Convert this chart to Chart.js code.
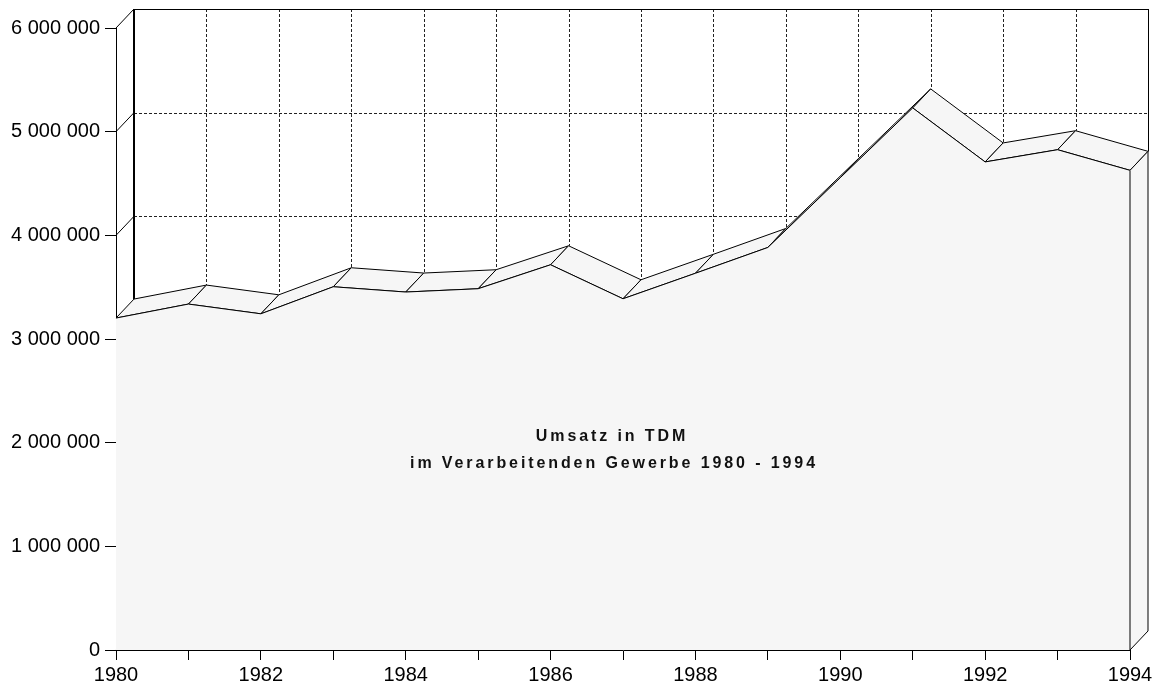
<!DOCTYPE html>
<html>
<head>
<meta charset="utf-8">
<script src="https://cdn.jsdelivr.net/npm/chart.js@4/dist/chart.umd.min.js"></script>
<style>
  html, body { margin: 0; padding: 0; background: #ffffff; }
  #wrap { width: 1159px; height: 688px; position: relative; }
</style>
</head>
<body>
<div id="wrap"><canvas id="c" width="1159" height="688"></canvas></div>
<script>
// ---- data ----
const years = ['1980','1981','1982','1983','1984','1985','1986','1987','1988','1989','1990','1991','1992','1993','1994'];
const umsatz = [3202000, 3337000, 3243000, 3504000, 3453000, 3485000, 3716000, 3388000, 3634000, 3883000, 4556000, 5229000, 4708000, 4826000, 4627000];
const yTickValues = [0, 1000000, 2000000, 3000000, 4000000, 5000000, 6000000];
const xLabeledYears = ['1980','1982','1984','1986','1988','1990','1992','1994'];
const titleLines = ['Umsatz in TDM', 'im Verarbeitenden Gewerbe 1980 - 1994'];

// ---- style ----
const DEPTH_X = 18, DEPTH_Y = -19;
const FACE = '#f6f6f6';
const FONT = '"Liberation Sans", Arial, sans-serif';

function fmt(v) { return String(v).replace(/\B(?=(\d{3})+(?!\d))/g, ' '); }

const depthPlugin = {
  id: 'depth3d',
  beforeDatasetsDraw(chart) {
    const ctx = chart.ctx, xs = chart.scales.x, ys = chart.scales.y;
    const n = umsatz.length;
    const fx = i => xs.getPixelForValue(i);
    const fy = i => ys.getPixelForValue(umsatz[i]);
    const L = xs.getPixelForValue(0), R = xs.getPixelForValue(n - 1);
    const topY = ys.getPixelForValue(yTickValues[yTickValues.length - 1]);
    ctx.save();
    ctx.lineWidth = 1;
    // back wall dashed horizontal grid
    ctx.strokeStyle = '#222';
    ctx.setLineDash([3, 2]);
    yTickValues.slice(1, -1).forEach(v => {
      const y = Math.round(ys.getPixelForValue(v) + DEPTH_Y) + 0.5;
      ctx.beginPath(); ctx.moveTo(L + DEPTH_X, y); ctx.lineTo(R + DEPTH_X, y); ctx.stroke();
    });
    // back wall dashed vertical grid
    for (let i = 1; i < n - 1; i++) {
      const x = Math.round(fx(i) + DEPTH_X) + 0.5;
      ctx.beginPath(); ctx.moveTo(x, topY + DEPTH_Y); ctx.lineTo(x, fy(i) + DEPTH_Y); ctx.stroke();
    }
    ctx.setLineDash([]);
    ctx.strokeStyle = '#000';
    // top line of back wall
    ctx.beginPath();
    const ty = Math.round(topY + DEPTH_Y) + 0.5;
    ctx.moveTo(L + DEPTH_X, ty); ctx.lineTo(R + DEPTH_X, ty); ctx.stroke();
    // left back edge (thick)
    ctx.lineWidth = 2;
    ctx.beginPath();
    ctx.moveTo(L + DEPTH_X, topY + DEPTH_Y); ctx.lineTo(L + DEPTH_X, fy(0) + DEPTH_Y); ctx.stroke();
    ctx.lineWidth = 1;
    // right back edge
    ctx.beginPath();
    const rx = Math.round(R + DEPTH_X) + 0.5;
    ctx.moveTo(rx, topY + DEPTH_Y); ctx.lineTo(rx, fy(n - 1) + DEPTH_Y); ctx.stroke();
    // diagonals from y axis ticks
    yTickValues.forEach(v => {
      const y = ys.getPixelForValue(v);
      ctx.beginPath(); ctx.moveTo(L, y); ctx.lineTo(L + DEPTH_X, y + DEPTH_Y); ctx.stroke();
    });
    // top faces
    ctx.fillStyle = FACE;
    ctx.lineJoin = 'round';
    for (let i = 0; i < n - 1; i++) {
      ctx.beginPath();
      ctx.moveTo(fx(i), fy(i));
      ctx.lineTo(fx(i + 1), fy(i + 1));
      ctx.lineTo(fx(i + 1) + DEPTH_X, fy(i + 1) + DEPTH_Y);
      ctx.lineTo(fx(i) + DEPTH_X, fy(i) + DEPTH_Y);
      ctx.closePath();
      ctx.fill(); ctx.stroke();
    }
    ctx.restore();
  },
  afterDatasetsDraw(chart) {
    const ctx = chart.ctx, xs = chart.scales.x, ys = chart.scales.y;
    const n = umsatz.length;
    const R = xs.getPixelForValue(n - 1);
    const yl = ys.getPixelForValue(umsatz[n - 1]);
    const y0 = ys.getPixelForValue(0);
    ctx.save();
    ctx.lineWidth = 1;
    ctx.strokeStyle = '#000';
    ctx.fillStyle = FACE;
    ctx.beginPath();
    ctx.moveTo(R, yl);
    ctx.lineTo(R + DEPTH_X, yl + DEPTH_Y);
    ctx.lineTo(R + DEPTH_X, y0 + DEPTH_Y);
    ctx.lineTo(R, y0);
    ctx.closePath();
    ctx.fill(); ctx.stroke();
    // title text inside the chart
    ctx.fillStyle = '#111';
    ctx.font = 'bold 16px ' + FONT;
    ctx.textAlign = 'center';
    ctx.textBaseline = 'middle';
    try { ctx.letterSpacing = '2.9px'; } catch (e) {}
    ctx.fillText(titleLines[0], 612, 437);
    ctx.fillText(titleLines[1], 614, 464);
    ctx.restore();
  }
};

new Chart(document.getElementById('c'), {
  type: 'line',
  data: {
    labels: years,
    datasets: [{
      data: umsatz,
      borderColor: '#000',
      borderWidth: 1,
      backgroundColor: FACE,
      fill: 'origin',
      pointRadius: 0,
      tension: 0
    }]
  },
  options: {
    responsive: false,
    animation: false,
    devicePixelRatio: 1,
    layout: { padding: { left: 0, right: 29, top: 28, bottom: 0 } },
    plugins: { legend: { display: false }, tooltip: { enabled: false }, title: { display: false } },
    scales: {
      x: {
        type: 'category',
        offset: false,
        z: 1,
        border: { display: true, color: '#000', width: 1 },
        grid: { display: true, drawOnChartArea: false, drawTicks: true, tickLength: 10, color: '#000' },
        ticks: {
          autoSkip: false, maxRotation: 0, minRotation: 0, padding: 3,
          color: '#000', font: { family: FONT, size: 20 },
          callback: function (v, i) { const y = years[i]; return xLabeledYears.includes(y) ? y : ''; }
        },
        afterFit: s => { s.height = 38; s.paddingLeft = 0; s.paddingRight = 0; }
      },
      y: {
        min: 0, max: 6000000,
        z: 1,
        border: { display: true, color: '#000', width: 1 },
        grid: { display: true, drawOnChartArea: false, drawTicks: true, tickLength: 11, color: '#000' },
        afterBuildTicks: s => { s.ticks = yTickValues.map(v => ({ value: v })); },
        ticks: {
          padding: 5, color: '#000', font: { family: FONT, size: 20 },
          callback: v => fmt(v)
        },
        afterFit: s => { s.width = 116; s.paddingTop = 0; s.paddingBottom = 0; }
      }
    }
  },
  plugins: [depthPlugin]
});
</script>
</body>
</html>
